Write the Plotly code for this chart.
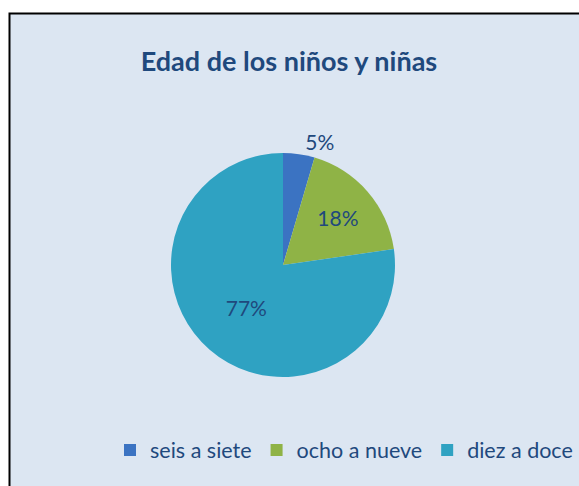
import plotly.graph_objects as go

categories = ["seis a siete", "ocho a nueve", "diez a doce"]
counts = [1, 4, 17]
colors = ["#3B73C2", "#8FB346", "#2FA2C2"]
label_positions = ["outside", "inside", "inside"]

W, H = 579, 486
cx, cy, r = 283, 265, 112

fig = go.Figure()
fig.add_trace(go.Pie(
    labels=categories,
    values=counts,
    sort=False,
    direction="clockwise",
    rotation=0,
    marker=dict(colors=colors, line=dict(width=0)),
    texttemplate="%{percent:.0%}",
    textposition=label_positions,
    insidetextorientation="horizontal",
    textfont=dict(family="Lato, Open Sans, sans-serif", size=21, color="#1F497D"),
    hoverinfo="label+percent",
    domain=dict(x=[(cx - r) / W, (cx + r) / W], y=[(H - cy - r) / H, (H - cy + r) / H]),
    showlegend=True,
))

fig.update_layout(
    width=W, height=H,
    margin=dict(l=0, r=0, t=0, b=0, autoexpand=False),
    paper_bgcolor="white",
    plot_bgcolor="white",
    title=dict(
        text="<b>Edad de los niños y niñas</b>",
        x=289 / W, y=1 - 62 / H, xanchor="center", yanchor="middle",
        font=dict(family="Lato, Open Sans, sans-serif", size=27, color="#1F497D"),
    ),
    legend=dict(
        orientation="h",
        x=110 / W, xanchor="left",
        y=1 - 450 / H, yanchor="middle",
        bgcolor="rgba(0,0,0,0)",
        font=dict(family="Lato, Open Sans, sans-serif", size=21.5, color="#1F497D"),
        itemwidth=30,
        traceorder="normal",
    ),
    shapes=[dict(
        type="rect", xref="paper", yref="paper",
        x0=9.5 / W, x1=1.05, y0=-0.05, y1=1 - 13.5 / H,
        fillcolor="#DCE6F2", line=dict(color="black", width=2), layer="below",
    )],
)

fig.write_html(
    "out.html",
    config={"displayModeBar": False},
    post_script="document.body.style.margin='0';document.body.style.overflow='hidden';",
)
